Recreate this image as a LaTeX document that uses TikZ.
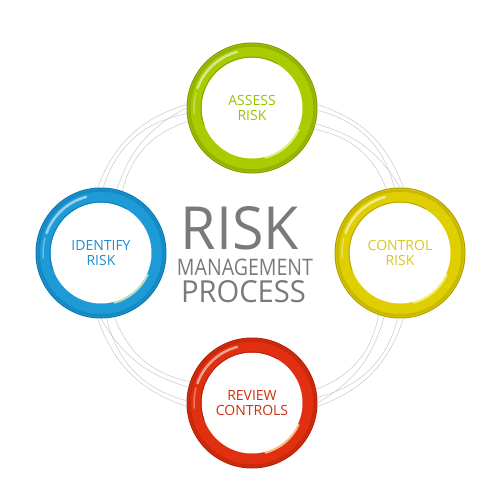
\documentclass[tikz,border=0pt]{standalone}
\usepackage{fontspec}
\setmainfont{Open Sans}
\usepackage{graphicx}
\definecolor{gmain}{HTML}{A8CC00}\definecolor{gdark}{HTML}{7F9A00}\definecolor{gtext}{HTML}{9AC400}
\definecolor{bmain}{HTML}{1E9AD6}\definecolor{bdark}{HTML}{0B78B0}\definecolor{btext}{HTML}{1F8FCF}
\definecolor{ymain}{HTML}{E0CF00}\definecolor{ydark}{HTML}{B0A000}\definecolor{ytext}{HTML}{D8C820}
\definecolor{rmain}{HTML}{E0300F}\definecolor{rdark}{HTML}{B02008}\definecolor{rtext}{HTML}{D03010}
\definecolor{centergray}{HTML}{7A7A7A}
\tikzset{
  ringnode/.style n args={3}{circle, minimum size=130pt, inner sep=0pt, fill=#1, draw=#2, line width=1pt,
    align=center, text=#3, font=\fontsize{14}{15.5}\selectfont,
    path picture={
      \draw[#2!50!#1, line width=2.5pt] (path picture bounding box.center) circle (62.5pt);
      \draw[white, opacity=.55, line width=2.5pt, line cap=round] ([shift={(105:58pt)}]path picture bounding box.center) arc (105:160:58pt);
      \draw[white, opacity=.35, line width=1.5pt, line cap=round] ([shift={(165:58pt)}]path picture bounding box.center) arc (165:185:58pt);
      \fill[white] (path picture bounding box.center) circle (50.5pt);
      \draw[#2!80!#1, line width=1pt] ([shift={(60:51pt)}]path picture bounding box.center) arc (60:200:51pt);
      \draw[white!70!yellow, opacity=.7, line width=2pt, line cap=round] ([shift={(-75:51.5pt)}]path picture bounding box.center) arc (-75:-25:51.5pt);
    }},
  arcline/.style={draw=gray!40, line width=0.55pt},
  centertext/.style={anchor=base, inner sep=0pt, text=centergray}
}
\newcommand{\quadarcs}[3]{%
  \draw[arcline] (#1.{3+#3}) to[bend left=26] (#2.{87+#3});
  \draw[arcline] (#1.{-2+#3}) to[bend left=31] (#2.{95+#3});
  \draw[arcline] (#1.{-14+#3}) to[bend left=22] (#2.{90+#3});
  \draw[arcline] (#1.{-19+#3}) to[bend left=29] (#2.{102+#3});
}
\begin{document}
\begin{tikzpicture}[x=1pt,y=-1pt]
\useasboundingbox (0,0) rectangle (499,500);
\node[ringnode={gmain}{gdark}{gtext}] (assess) at (252,108) {ASSESS\\RISK};
\node[ringnode={ymain}{ydark}{ytext}] (control) at (400,253) {CONTROL\\RISK};
\node[ringnode={rmain}{rdark}{rtext}] (review) at (252,403) {REVIEW\\CONTROLS};
\node[ringnode={bmain}{bdark}{btext}] (identify) at (101,253) {IDENTIFY\\RISK};
\quadarcs{assess}{control}{0}
\quadarcs{control}{review}{-90}
\quadarcs{review}{identify}{-180}
\quadarcs{identify}{assess}{90}
\node[centertext] (risk) at (240,249) {\resizebox{118pt}{43pt}{RISK}};
\node[centertext] (mgmt) at (245,275) {\resizebox{136pt}{16.5pt}{MANAGEMENT}};
\node[centertext] (proc) at (243.5,302) {\resizebox{125pt}{22pt}{PROCESS}};
\end{tikzpicture}
\end{document}
